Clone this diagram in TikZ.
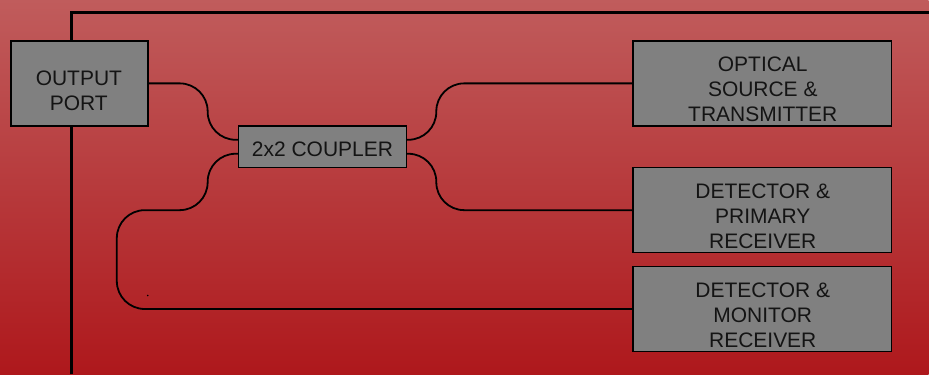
\documentclass[tikz,border=0pt]{standalone}
\usepackage{fontspec}
\setmainfont{Liberation Sans}
\usetikzlibrary{calc}
\pgfdeclarelayer{back}
\pgfdeclarelayer{fib}
\pgfsetlayers{back,fib,main}
\definecolor{bgtop}{RGB}{192,92,92}
\definecolor{bgbot}{RGB}{174,24,28}
\definecolor{boxgray}{RGB}{128,128,128}
\definecolor{txt}{RGB}{20,20,20}
\begin{document}
\begin{tikzpicture}[x=1pt,y=-1pt,
  blk/.style={draw=black, line width=1.5pt, fill=boxgray, inner sep=0pt},
  blktext/.style={text=txt, font=\fontsize{21}{25}\selectfont, align=center, inner sep=0pt},
  fibre/.style={draw=black, line width=1.8pt, rounded corners=28pt},
  framel/.style={draw=black, line width=3pt}]
\begin{pgfonlayer}{back}
\shade[top color=bgtop, bottom color=bgbot] (0,0) rectangle (930,375);
\coordinate (fa) at (72,375);
\coordinate (fb) at (72,12.5);
\coordinate (fc) at (930,12.5);
\draw[framel] (fa) -- (fb) -- (fc);
\end{pgfonlayer}
\useasboundingbox (0,0) rectangle (930,375);
% boxes
\node[blk, minimum width=137pt, minimum height=85pt] (out) at (79.5,83.5) {};
\node[blk, minimum width=168pt, minimum height=42pt] (cpl) at (323,147) {};
\node[blk, minimum width=259pt, minimum height=85pt] (opt) at (763.5,83.5) {};
\node[blk, minimum width=259pt, minimum height=85pt] (pri) at (763.5,210.5) {};
\node[blk, minimum width=259pt, minimum height=85pt] (mon) at (763.5,309.5) {};
% fibres
\begin{pgfonlayer}{fib}
\draw[fibre] (out.east) -- (208,83.5) -- (208,140) -- ($(cpl.west)+(0,-7)$);
\draw[fibre] ($(cpl.east)+(0,-7)$) -- (437,140) -- (437,83.5) -- (opt.west);
\draw[fibre] ($(cpl.east)+(0,7)$) -- (437,154) -- (437,210.5) -- (pri.west);
\draw[fibre] ($(cpl.west)+(0,7)$) -- (208,154) -- (208,210.5) -- (117,210.5) -- (117,309.5) -- (mon.west);
\fill (148,296) circle (0.9);
\end{pgfonlayer}
% texts
\node[blktext] (outT) at (79,90.7) {OUTPUT\\PORT};
\node[blktext] (cplT) at (323,149.2) {2x2 COUPLER};
\node[blktext] (optT) at (764,89.5) {OPTICAL\\SOURCE \&\\TRANSMITTER};
\node[blktext] (priT) at (764,216.8) {DETECTOR \&\\PRIMARY\\RECEIVER};
\node[blktext] (monT) at (764,315.5) {DETECTOR \&\\MONITOR\\RECEIVER};
\end{tikzpicture}
\end{document}
